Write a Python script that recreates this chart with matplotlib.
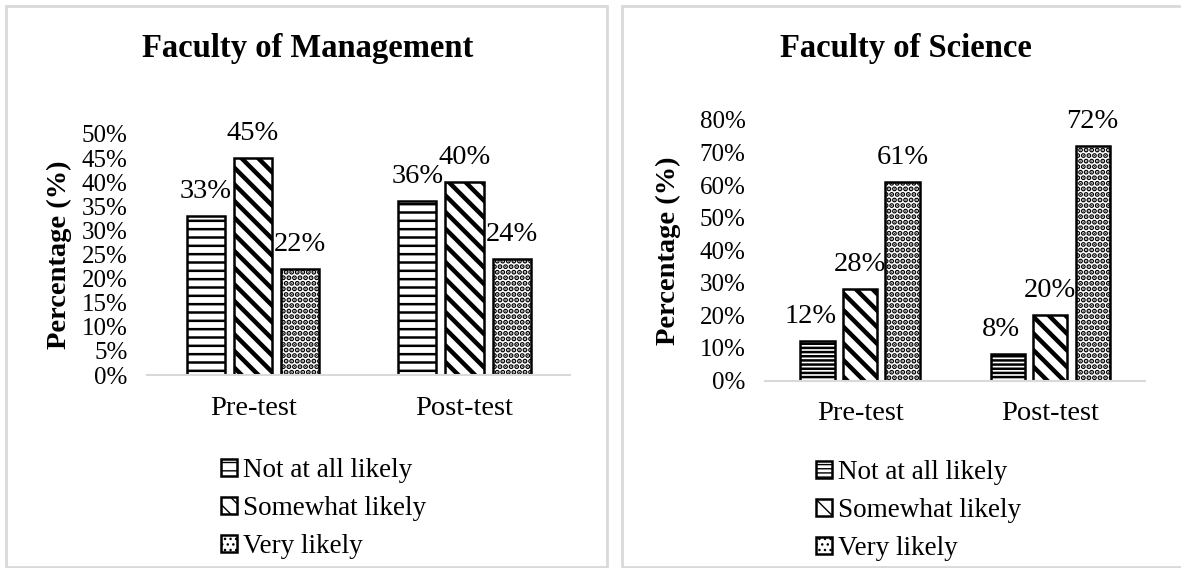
import numpy as np
import matplotlib.pyplot as plt
from matplotlib.patches import Rectangle
from matplotlib.ticker import PercentFormatter, MultipleLocator

plt.rcParams['font.family'] = ['Liberation Serif', 'DejaVu Serif']
plt.rcParams['hatch.color'] = 'black'

groups = ['Pre-test', 'Post-test']
series = ['Not at all likely', 'Somewhat likely', 'Very likely']

# Faculty of Management
mgmt_not = [0.33, 0.36]
mgmt_some = [0.45, 0.40]
mgmt_very = [0.22, 0.24]

# Faculty of Science
sci_not = [0.12, 0.08]
sci_some = [0.28, 0.20]
sci_very = [0.61, 0.72]

W, H = 1181, 568
fig = plt.figure(figsize=(W / 100, H / 100), dpi=100)


def px(x0, y0, x1, y1):
    # pixel box (top-left origin) -> figure fraction rect
    return [x0 / W, 1 - y1 / H, (x1 - x0) / W, (y1 - y0) / H]


def panel(rect, title, title_xy, ylab_xy, vals, ymax, step, hatches, hlws, legend_xy, lab_dx):
    ax = fig.add_axes(rect)
    x = np.arange(len(groups))
    width, off = 0.18, 0.223
    handles = []
    for i, (v, h, lw) in enumerate(zip(vals, hatches, hlws)):
        with plt.rc_context({'hatch.linewidth': lw}):
            bars = ax.bar(x + (i - 1) * off, v, width, color='white', edgecolor='black',
                          linewidth=1.8, hatch=h, label=series[i])
        for b in bars:
            if hasattr(b, 'set_hatch_linewidth'):
                b.set_hatch_linewidth(lw)
        handles.append(bars)
        for b, val in zip(bars, v):
            ax.annotate(f'{val * 100:.0f}%', (b.get_x() + b.get_width() / 2, b.get_height()),
                        xytext=(lab_dx[i], 13), textcoords='offset points',
                        ha='center', va='baseline', fontsize=20.5)
    ax.set_xlim(-0.5, 1.5)
    ax.set_ylim(0, ymax)
    ax.yaxis.set_major_locator(MultipleLocator(step))
    ax.yaxis.set_major_formatter(PercentFormatter(1.0, decimals=0))
    ax.set_xticks(x, groups)
    for s in ['top', 'right', 'left']:
        ax.spines[s].set_visible(False)
    ax.spines['bottom'].set_color('#d9d9d9')
    ax.spines['bottom'].set_linewidth(1.5)
    ax.tick_params(axis='y', length=0, pad=14, labelsize=18)
    ax.tick_params(axis='x', length=0, pad=15, labelsize=20.5)
    fig.text(title_xy[0] / W, 1 - title_xy[1] / H, title, ha='center', va='baseline',
             fontsize=23.5, fontweight='bold')
    fig.text(ylab_xy[0] / W, 1 - ylab_xy[1] / H, 'Percentage (%)', rotation=90,
             ha='center', va='center', fontsize=20.5, fontweight='bold')
    fig.legend(handles=handles, loc='upper left',
               bbox_to_anchor=(legend_xy[0] / W, 1 - legend_xy[1] / H),
               frameon=False, fontsize=19.5, handlelength=0.6, handleheight=0.6,
               handletextpad=0.2, labelspacing=0.48, borderpad=0, borderaxespad=0)
    return ax


panel(px(147.3, 134, 570.2, 375), 'Faculty of Management', (308, 57), (59, 255),
      [mgmt_not, mgmt_some, mgmt_very], 0.5, 0.05, ['--', '\\\\', '...'], [1.8, 3.2, 2.6],
      (221, 458), [0, 0, 0])
panel(px(764.9, 120, 1145.4, 380.5), 'Faculty of Science', (906, 57), (668, 251),
      [sci_not, sci_some, sci_very], 0.8, 0.1, ['----', '\\\\', '...'], [1.8, 3.2, 2.6],
      (816, 460), [-5, 0, 0])

for x0, x1 in [(6, 607), (622, 1195)]:
    fig.add_artist(Rectangle((x0 / W, 1 - 567 / H), (x1 - x0) / W, (567 - 6) / H,
                             transform=fig.transFigure, fill=False,
                             edgecolor='#d9d9d9', linewidth=2, clip_on=False))

fig.savefig('out.png', dpi=100)
